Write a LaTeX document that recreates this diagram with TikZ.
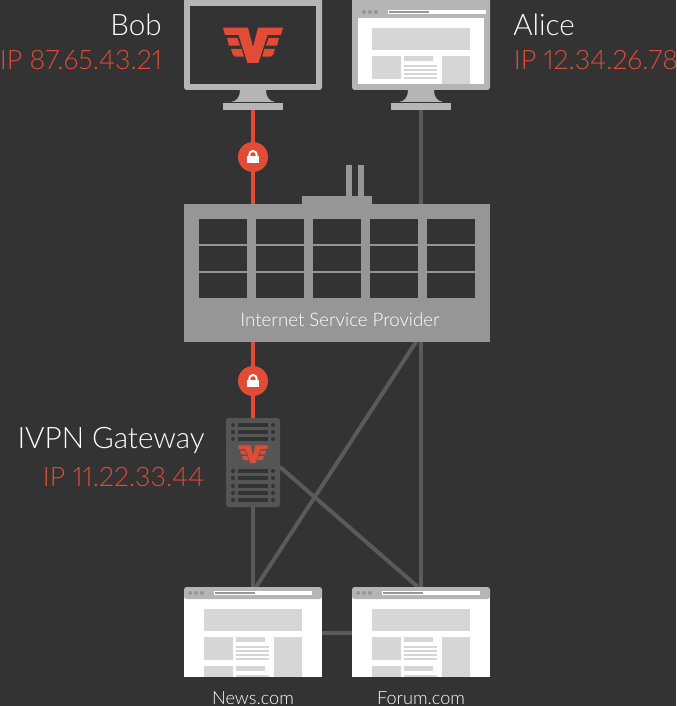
\documentclass[tikz,border=0pt]{standalone}
\usepackage{fontspec}
\setmainfont[Numbers=Proportional]{Lato Light}
\definecolor{bg}{HTML}{333333}
\definecolor{lgray}{HTML}{B5B5B5}
\definecolor{bgray}{HTML}{969696}
\definecolor{sgray}{HTML}{5A5A5A}
\definecolor{panel}{HTML}{D6D6D6}
\definecolor{vred}{HTML}{E24B36}
\tikzset{
  wire/.style={draw=sgray,line width=3pt},
  redwire/.style={draw=vred,line width=3pt},
  lbl/.style={text=white,font=\fontsize{22.2}{24}\selectfont,inner sep=0pt},
  iplbl/.style={text=vred,font=\fontsize{20.1}{24}\selectfont,inner sep=0pt},
  sitelbl/.style={text=white,font=\fontsize{13.6}{15}\selectfont,inner sep=0pt},
  pt/.style={inner sep=0pt,minimum size=0pt,outer sep=0pt},
}
\newcommand{\pagecontent}[1]{%
 \begin{scope}[shift={(#1,0)}]
  \fill[panel] (20,0) rectangle (118,22);
  \fill[panel] (20,28) rectangle (49,51);
  \fill[panel] (52,28) rectangle (81,33);
  \foreach \yy in {37,41,45,49} \fill[panel] (52,\yy) rectangle (85,\yy+2);
 \end{scope}}
\newcommand{\urlbar}{%
  \foreach \xx in {6,12,18} \fill[bgray] (\xx,0) circle (2);
  \fill[white] (30,-2) rectangle (128,2);
  \fill[bgray] (31,-1) rectangle (71,1);}
\newcommand{\logo}{%
  \fill[vred] (-30,-17.3) -- (-5,-17.3) -- (0,2) -- (5,-17.3) -- (30,-17.3) -- (28,-10) -- (14.5,-10) -- (5.5,18) -- (-5.5,18) -- (-14.5,-10) -- (-28,-10) -- cycle;
  \fill[vred] (-26,-7) -- (-15.5,-7) -- (-13,0.7) -- (-24,0.7) -- cycle;
  \fill[vred] (26,-7) -- (15.5,-7) -- (13,0.7) -- (24,0.7) -- cycle;
  \fill[vred] (-22,4) -- (-11.5,4) -- (-9,11.7) -- (-18,11.7) -- (-20.5,9) -- cycle;
  \fill[vred] (22,4) -- (11.5,4) -- (9,11.7) -- (18,11.7) -- (20.5,9) -- cycle;}
\newcommand{\lockicon}[1]{%
  \begin{scope}[shift={(#1)}]
   \fill[white] (-6,-1) rectangle (6,6);
   \draw[white,line width=1.5pt] (-3.7,-0.5) -- (-3.7,-2.3) arc[start angle=180,end angle=360,radius=3.7] -- (3.7,-0.5);
  \end{scope}}
\newcommand{\stand}[1]{%
  \begin{scope}[shift={(#1,0)}]
   \fill[lgray] (56,90) -- (82,90) .. controls (82,97) and (85,101) .. (91,102) -- (47,102) .. controls (53,101) and (56,97) .. (56,90) -- cycle;
   \fill[lgray] (39,103) rectangle (99,110);
   \fill[lgray,rounded corners=2pt] (0,-4) rectangle (138,90);
  \end{scope}}
\begin{document}
\begin{tikzpicture}[x=0.75pt,y=-0.75pt]
\useasboundingbox (0,0) rectangle (676,706);
\fill[bg] (0,0) rectangle (676,706);
\begin{scope}
\clip (0,0) rectangle (676,706);
% anchors
\coordinate (bobS) at (253,110);
\coordinate (ispB) at (253,204);
\coordinate (ispB2) at (253,342);
\coordinate (gwT) at (253,418);
\coordinate (gwB) at (253,507);
\coordinate (gwR) at (280,467);
\coordinate (newsT) at (253,587);
\coordinate (newsTR) at (256,587);
\coordinate (forT) at (421,587);
\coordinate (forTL) at (418,587);
\coordinate (aliS) at (421,110);
\coordinate (ispR) at (416,342);
\coordinate (newsR) at (322,632.5);
\coordinate (forL) at (352,632.5);
% connectors
\draw[wire] (aliS) -- (forT);
\draw[wire] (gwB) -- (newsT);
\draw[wire] (gwR) -- (forTL);
\draw[wire] (ispR) -- (newsTR);
\draw[wire] (newsR) -- (forL);
\draw[redwire] (bobS) -- (ispB);
\draw[redwire] (ispB2) -- (gwT);
% monitors
\stand{184}
\fill[bg] (190,6) rectangle (316,84);
\begin{scope}[shift={(253,45)}]\logo\end{scope}
\stand{352}
\fill[white] (358,18) rectangle (484,84);
\begin{scope}[shift={(358,12)}]\urlbar\end{scope}
\begin{scope}[shift={(0,28)}]
 \pagecontent{352}
 \fill[panel] (442,28) rectangle (470,56);
\end{scope}
\end{scope}
% locks
\node[pt,fill=vred,circle,minimum size=22.5pt] (lockA) at (253,157) {};
\lockicon{253,157}
\node[pt,fill=vred,circle,minimum size=22.5pt] (lockB) at (253,381) {};
\lockicon{253,381}
% ISP
\fill[bgray] (346,165) rectangle (352,196);
\fill[bgray] (358,165) rectangle (364,196);
\fill[bgray] (302,196) rectangle (372,204);
\node[pt,fill=bgray,minimum width=229.5pt,minimum height=103.5pt] (isp) at (337,273) {};
\foreach \xx in {199,256,313,370,427}
  \foreach \yy in {219,246,273}
    \fill[bg] (\xx,\yy) rectangle (\xx+48,\yy+25);
\node[pt,text=white,font=\fontsize{14}{15}\selectfont] (ispl) at (340,320) {Internet Service Provider};
% gateway
\fill[sgray!95!black,rounded corners=2pt] (226,418) rectangle (280,507);
\foreach \yy in {425,432,439,471,478,486,493,500} {
  \fill[bg] (238,\yy-2) rectangle (268,\yy+2);
  \fill[bg] (233,\yy) circle (2);
  \fill[bg] (273,\yy) circle (2);
}
\begin{scope}[shift={(253,454)},scale=0.5]\logo\end{scope}
% pages
\foreach \ox in {184,352} {
 \begin{scope}[shift={(\ox,587)}]
  \fill[white] (0,10) rectangle (138,90);
  \fill[lgray,rounded corners=2pt] (0,0) rectangle (138,12);
  \begin{scope}[shift={(0,6)}]\urlbar\end{scope}
  \begin{scope}[shift={(0,22)}]\pagecontent{0}\end{scope}
  \fill[panel] (90,50) rectangle (118,90);
  \fill[panel] (20,79) rectangle (49,90);
  \fill[panel] (52,79) rectangle (81,84);
  \fill[panel] (52,88) rectangle (85,90);
 \end{scope}
}
% labels
\node[lbl,anchor=east] (bob) at (162,25) {Bob};
\node[iplbl,anchor=east] (bobip) at (162,60) {IP 87.65.43.21};
\node[lbl,anchor=west] (alice) at (513,25) {Alice};
\node[iplbl,anchor=west] (aliceip) at (513.5,60) {IP 12.34.26.78};
\node[lbl,anchor=east] (gw) at (205,441) {IVPN Gateway};
\node[iplbl,anchor=east] (gwip) at (204.5,477) {IP 11.22.33.44};
\node[sitelbl] (news) at (253,698) {News.com};
\node[sitelbl] (forum) at (421,698) {Forum.com};
\end{tikzpicture}
\end{document}
